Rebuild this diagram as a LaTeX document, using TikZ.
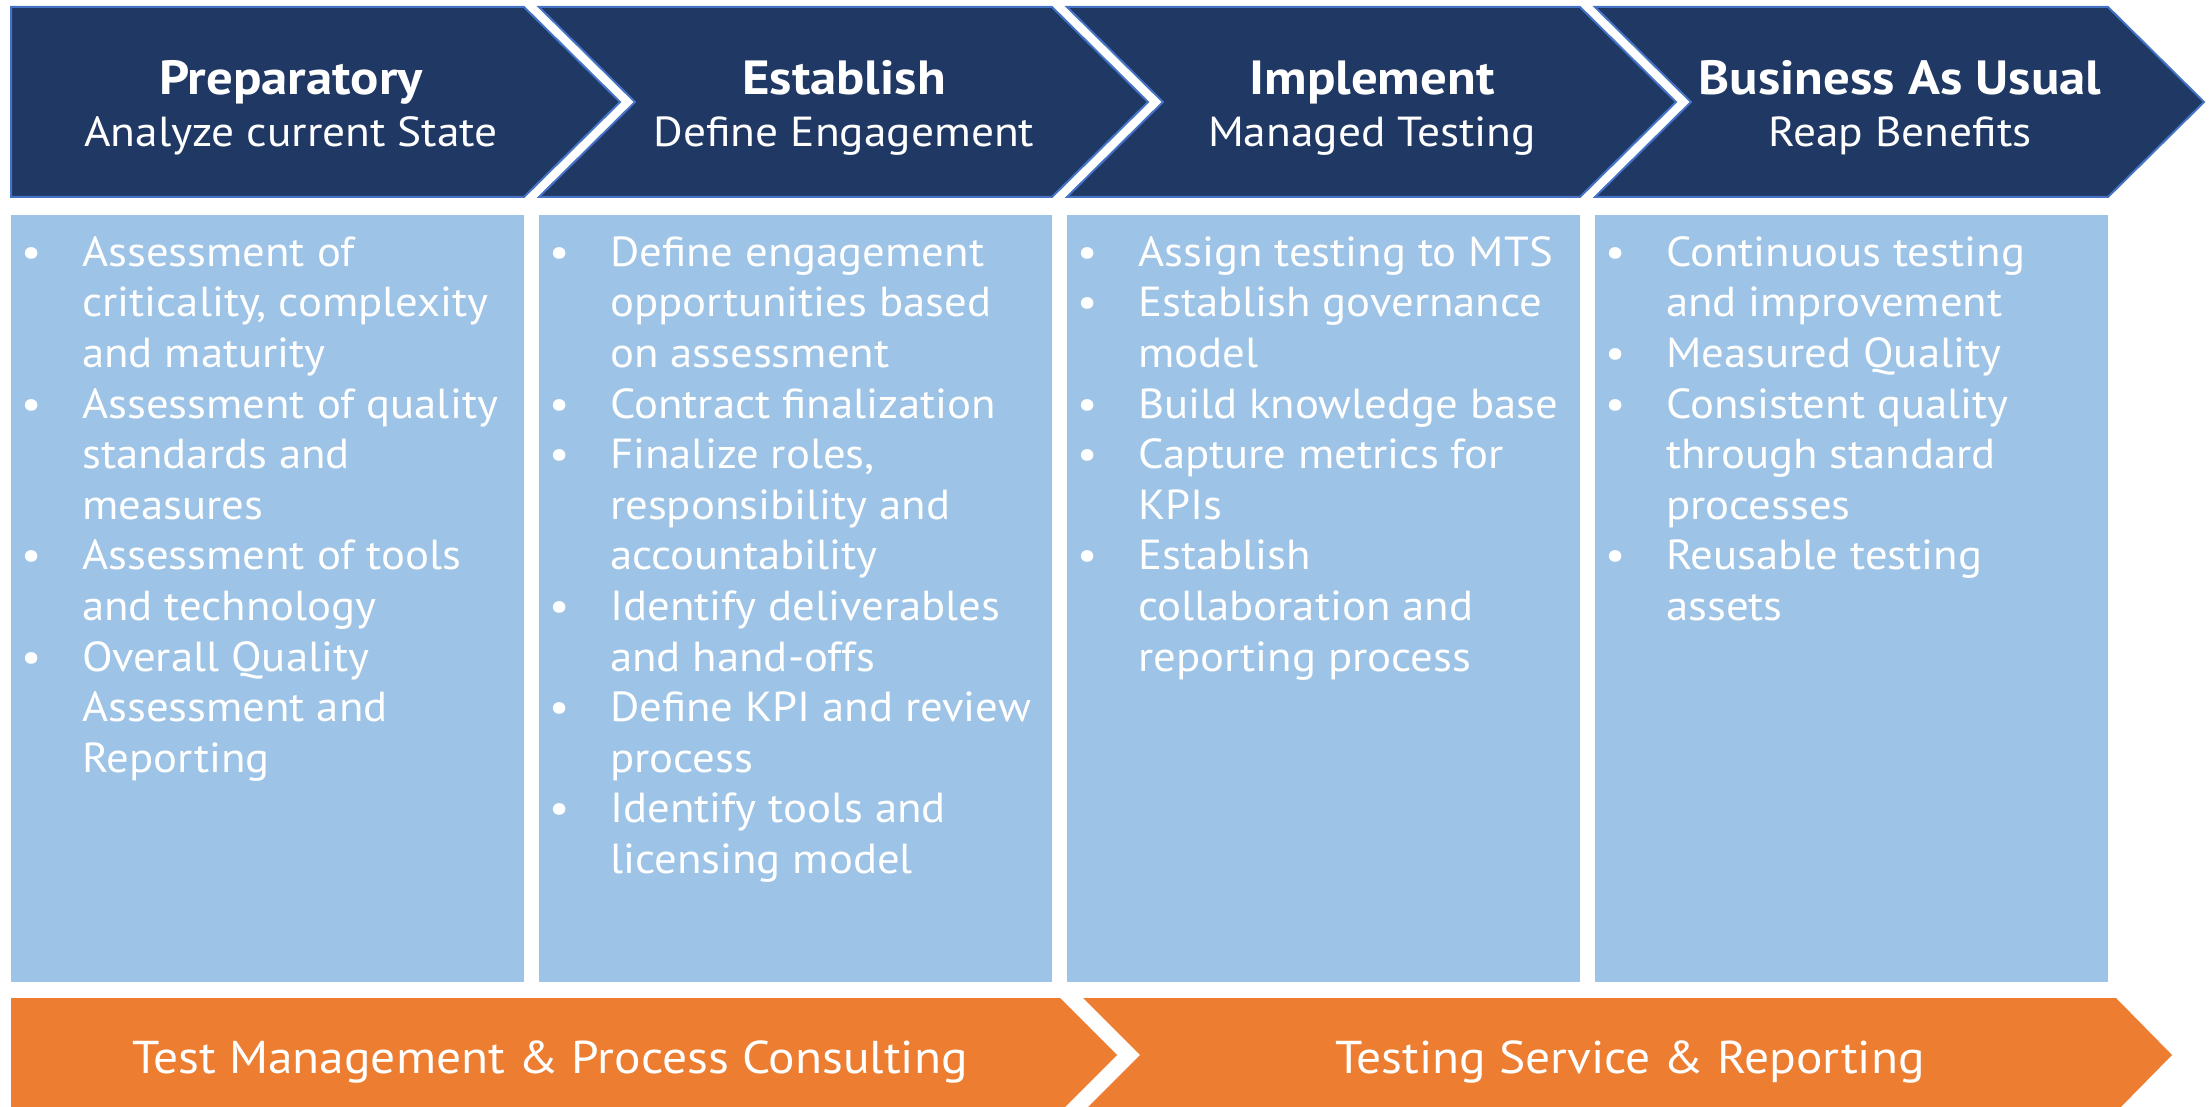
\documentclass[tikz,border=0pt]{standalone}
\usepackage{fontspec}
\setmainfont{PT Sans}
\newfontfamily\bodyfont[FakeStretch=1.065]{PT Sans}
\newfontfamily\titlefont[FakeStretch=1.1]{PT Sans}
\newfontfamily\subfont[FakeStretch=1.08]{PT Sans}
\newfontfamily\bandfont[FakeStretch=1.075]{PT Sans}
\definecolor{navy}{HTML}{203864}
\definecolor{navyedge}{HTML}{4472C4}
\definecolor{lightblue}{HTML}{9DC3E6}
\definecolor{orangefill}{HTML}{ED7D31}
\newcommand\bul{\makebox[71pt][l]{\makebox[40pt]{\textbullet}}}
\begin{document}
\begin{tikzpicture}[x=1pt,y=-1pt,
  head/.style={fill=navy,draw=navyedge,line width=2pt,line join=miter},
  panel/.style={fill=lightblue},
  band/.style={fill=orangefill},
  ttl/.style={text=white,font=\titlefont\fontsize{48}{54}\selectfont\bfseries,anchor=base,inner sep=0},
  sub/.style={text=white,font=\subfont\fontsize{42}{48}\selectfont,anchor=base,inner sep=0},
  body/.style={text=white,font=\bodyfont\fontsize{42}{50.6}\selectfont,anchor=north west,inner sep=0},
  bandtxt/.style={text=white,font=\bandfont\fontsize{46}{54}\selectfont,anchor=base,inner sep=0}]
\useasboundingbox (0,0) rectangle (2209,1107);
\clip (0,0) rectangle (2209,1107);
% header chevrons
\path[head] (11,7) -- (524,7) -- (620,102) -- (524,197) -- (11,197) -- cycle;
\foreach \k in {1,2,3}{
  \pgfmathsetmacro\L{11+528*\k}
  \path[head] (\L,7) -- (\L+513,7) -- (\L+609,102) -- (\L+513,197) -- (\L,197) -- (\L+96,102) -- cycle;
}
% panels
\foreach \k in {0,1,2,3}{
  \fill[panel] (11+528*\k,215) rectangle (524+528*\k,982);
}
% orange bands
\path[band] (11,998) -- (1060,998) -- (1117,1055) -- (1060,1112) -- (11,1112) -- cycle;
\path[band] (1083,998) -- (2116,998) -- (2172,1055) -- (2116,1112) -- (1083,1112) -- (1140,1055) -- cycle;
% header texts
\node[ttl] (t1) at (291,95) {Preparatory};
\node[sub] (s1) at (291,147) {Analyze current State};
\node[ttl] (t2) at (844,95) {Establish};
\node[sub] (s2) at (844,147) {Define Engagement};
\node[ttl] (t3) at (1372,95) {Implement};
\node[sub] (s3) at (1372,147) {Managed Testing};
\node[ttl] (t4) at (1900,95) {Business As Usual};
\node[sub] (s4) at (1900,147) {Reap Benefits};
% bullet columns
\node[body] (c1) at (11,230.6) {\begin{tabular}{@{}l@{}l@{}}
\bul & Assessment of\\
 & criticality, complexity\\
 & and maturity\\
\bul & Assessment of quality\\
 & standards and\\
 & measures\\
\bul & Assessment of tools\\
 & and technology\\
\bul & Overall Quality\\
 & Assessment and\\
 & Reporting
\end{tabular}};
\node[body] (c2) at (539,230.6) {\begin{tabular}{@{}l@{}l@{}}
\bul & Define engagement\\
 & opportunities based\\
 & on assessment\\
\bul & Contract finalization\\
\bul & Finalize roles,\\
 & responsibility and\\
 & accountability\\
\bul & Identify deliverables\\
 & and hand-offs\\
\bul & Define KPI and review\\
 & process\\
\bul & Identify tools and\\
 & licensing model
\end{tabular}};
\node[body] (c3) at (1067,230.6) {\begin{tabular}{@{}l@{}l@{}}
\bul & Assign testing to MTS\\
\bul & Establish governance\\
 & model\\
\bul & Build knowledge base\\
\bul & Capture metrics for\\
 & KPIs\\
\bul & Establish\\
 & collaboration and\\
 & reporting process
\end{tabular}};
\node[body] (c4) at (1595,230.6) {\begin{tabular}{@{}l@{}l@{}}
\bul & Continuous testing\\
 & and improvement\\
\bul & Measured Quality\\
\bul & Consistent quality\\
 & through standard\\
 & processes\\
\bul & Reusable testing\\
 & assets
\end{tabular}};
% band texts
\node[bandtxt] (b1) at (550,1073) {Test Management \& Process Consulting};
\node[bandtxt] (b2) at (1630,1073) {Testing Service \& Reporting};
\end{tikzpicture}
\end{document}
